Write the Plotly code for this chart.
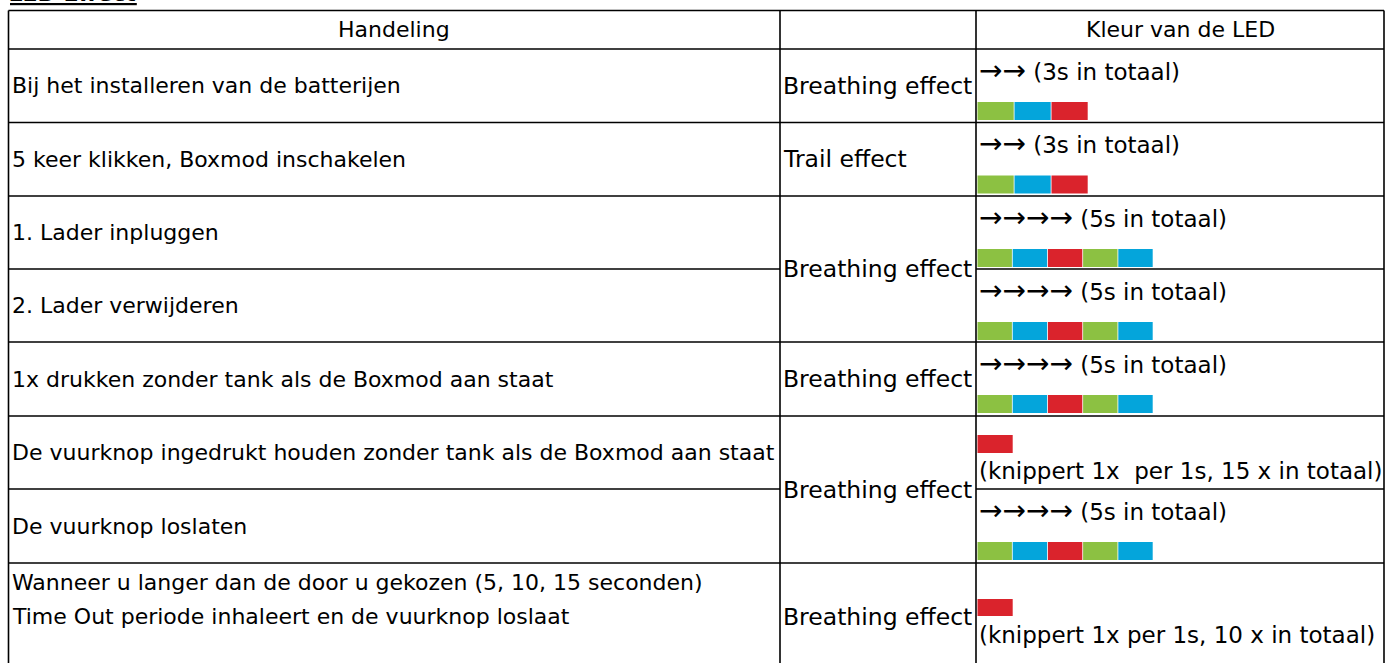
import plotly.graph_objects as go

# ---------------- data ----------------
title_text = "LED Effect"
header_labels = ["Handeling", "", "Kleur van de LED"]

actions = [
    "Bij het installeren van de batterijen",
    "5 keer klikken, Boxmod inschakelen",
    "1. Lader inpluggen",
    "2. Lader verwijderen",
    "1x drukken zonder tank als de Boxmod aan staat",
    "De vuurknop ingedrukt houden zonder tank als de Boxmod aan staat",
    "De vuurknop loslaten",
    "Wanneer u langer dan de door u gekozen (5, 10, 15 seconden)<br>Time Out periode inhaleert en de vuurknop loslaat",
]

# effect label and the rows it spans (merged cells)
effect_labels = ["Breathing effect", "Trail effect", "Breathing effect",
                 "Breathing effect", "Breathing effect", "Breathing effect"]
effect_spans = [[0], [1], [2, 3], [4], [5, 6], [7]]

led_texts = [
    "→→ (3s in totaal)",
    "→→ (3s in totaal)",
    "→→→→ (5s in totaal)",
    "→→→→ (5s in totaal)",
    "→→→→ (5s in totaal)",
    "(knippert 1x  per 1s, 15 x in totaal)",
    "→→→→ (5s in totaal)",
    "(knippert 1x per 1s, 10 x in totaal)",
]
led_sequences = [
    ["green", "blue", "red"],
    ["green", "blue", "red"],
    ["green", "blue", "red", "green", "blue"],
    ["green", "blue", "red", "green", "blue"],
    ["green", "blue", "red", "green", "blue"],
    ["red"],
    ["green", "blue", "red", "green", "blue"],
    ["red"],
]
# True when the colour bar sits above the description text
bar_first = [False, False, False, False, False, True, False, True]

# ---------------- styling / layout ----------------
W, H = 1385, 663
FONT = "DejaVu Sans"
FS_ACTION = 22
FS_EFFECT = 23.5
FS_LED = 23
ARROW_FS = 28
led_colors = {"green": "#8CC142", "blue": "#04A5DB", "red": "#DA232C"}

col_x = [8.5, 780, 976, 1384]
table_top = 10.5
header_bottom = 49
row_bounds = [49, 122.5, 196, 269, 342, 416, 489, 563, 700]

fig = go.Figure()
shapes = []
annotations = []

line = dict(color="black", width=1.6)

def hline(y, x0, x1):
    shapes.append(dict(type="line", xref="x", yref="y", x0=x0, x1=x1,
                       y0=y, y1=y, line=line))

def vline(x, y0, y1):
    shapes.append(dict(type="line", xref="x", yref="y", x0=x, x1=x,
                       y0=y0, y1=y1, line=line))

# outer & header lines
hline(table_top, col_x[0], col_x[3])
hline(header_bottom, col_x[0], col_x[3])
for x in col_x:
    vline(x, table_top, H + 20)

# merged rows in the effect column
merged_inner = set()
for span in effect_spans:
    for r in span[:-1]:
        merged_inner.add(r)

for r in range(len(actions) - 1):
    y = row_bounds[r + 1]
    if r in merged_inner:
        hline(y, col_x[0], col_x[1])
        hline(y, col_x[2], col_x[3])
    else:
        hline(y, col_x[0], col_x[3])

def font(size):
    return dict(family=FONT, size=size, color="black")

# header
annotations.append(dict(x=(col_x[0] + col_x[1]) / 2, y=(table_top + header_bottom) / 2,
                        text=header_labels[0], showarrow=False, xanchor="center",
                        yanchor="middle", font=font(22)))
annotations.append(dict(x=(col_x[2] + col_x[3]) / 2, y=(table_top + header_bottom) / 2,
                        text=header_labels[2], showarrow=False, xanchor="center",
                        yanchor="middle", font=font(22)))

# actions column
for r, a in enumerate(actions):
    top, bot = row_bounds[r], row_bounds[r + 1]
    lines = a.split("<br>")
    if len(lines) == 1:
        ycs = [(top + bot) / 2]
    else:
        ycs = [top + 19 + 34 * i for i in range(len(lines))]
    for ln, yc in zip(lines, ycs):
        annotations.append(dict(x=col_x[0] + 1, y=yc, text=ln, showarrow=False,
                                xanchor="left", yanchor="middle", align="left",
                                font=font(FS_ACTION)))

# effect column
for lab, span in zip(effect_labels, effect_spans):
    top = row_bounds[span[0]]
    bot = row_bounds[span[-1] + 1]
    if span[-1] == len(actions) - 1:
        yc = top + 54
    else:
        yc = (top + bot) / 2
    annotations.append(dict(x=col_x[1] + 1, y=yc, text=lab, showarrow=False,
                            xanchor="left", yanchor="middle", font=font(FS_EFFECT)))

def render_led_text(t):
    # draw the arrow glyphs a little larger, as in the source
    n = len(t) - len(t.lstrip("→"))
    if n == 0:
        return t
    return ("<span style='font-size:%dpx'>%s</span>" % (ARROW_FS, t[:n])) + t[n:]

# LED column
for r, (t, seq) in enumerate(zip(led_texts, led_sequences)):
    top = row_bounds[r]
    if bar_first[r]:
        if r == len(actions) - 1:
            bar_y0, bar_y1 = top + 36, top + 53
            text_y = top + 72
        else:
            bar_y0, bar_y1 = top + 19, top + 37
            text_y = top + 55
    else:
        text_y = top + 21
        bar_y0, bar_y1 = top + 53, top + 71
    bw = 37 if len(seq) == 3 else (35.2 if len(seq) == 5 else 36)
    x0 = col_x[2] + 1.5
    for i, c in enumerate(seq):
        shapes.append(dict(type="rect", xref="x", yref="y",
                           x0=x0 + i * bw, x1=x0 + (i + 1) * bw - 0.8,
                           y0=bar_y0, y1=bar_y1, fillcolor=led_colors[c],
                           line=dict(width=0), layer="above"))
    annotations.append(dict(x=col_x[2] + 1, y=text_y, text=render_led_text(t),
                            showarrow=False, xanchor="left", yanchor="middle",
                            font=font(FS_LED)))

# title (mostly cut off at the top edge, as in the source)
annotations.append(dict(xref="paper", yref="paper", x=8 / W, y=1 - 8 / H,
                        text="<b><i><u>" + title_text + "</u></i></b>",
                        showarrow=False, xanchor="left", yanchor="bottom",
                        font=dict(family=FONT, size=22, color="black")))

fig.update_layout(
    width=W, height=H,
    margin=dict(l=0, r=0, t=0, b=0),
    paper_bgcolor="white", plot_bgcolor="white",
    xaxis=dict(range=[0, W], visible=False, fixedrange=True),
    yaxis=dict(range=[H, 0], visible=False, fixedrange=True),
    shapes=shapes, annotations=annotations,
    showlegend=False,
)

fig.write_html("out.html", config={"displayModeBar": False},
               post_script="document.body.style.margin='0';document.body.style.overflow='hidden';")
